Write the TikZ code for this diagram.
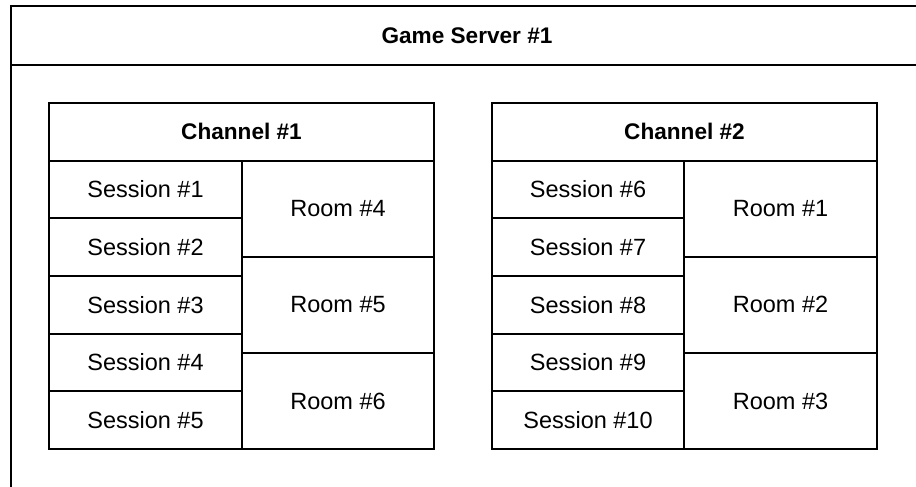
\documentclass[tikz,border=0pt]{standalone}
\usepackage{fontspec}
\setmainfont{Liberation Sans}
\begin{document}
\begin{tikzpicture}[x=1pt,y=-1pt,
  cell/.style={draw, line width=1.8pt, inner sep=0pt, outer sep=0pt,
    anchor=north west, font=\fontsize{23.5}{27}\selectfont},
  headcell/.style={cell, font=\bfseries\fontsize{22.6}{26}\selectfont},
  sesscell/.style={cell, minimum height=57.66},
  roomcell/.style={cell, minimum height=96.1}]
\useasboundingbox (0,0) rectangle (916,487);
\clip (0,0) rectangle (916,487);

% game server frame (extends past the page edge)
\node[headcell, minimum width=912, minimum height=59] (server) at (11,6) {Game Server \#1};
\node[cell, minimum width=912, minimum height=440] (serverbody) at (11,65) {};

% channel #1
\node[headcell, minimum width=385, minimum height=57.7] (ch1) at (49,103) {Channel \#1};
\foreach \i/\n in {0/1,1/2,2/3,3/4,4/5}
  \node[sesscell, minimum width=193] (s\n) at (49,{160.7+\i*57.66}) {Session \#\n};
\foreach \i/\n in {0/4,1/5,2/6}
  \node[roomcell, minimum width=192] (r\n) at (242,{160.7+\i*96.1}) {Room \#\n};

% channel #2
\node[headcell, minimum width=385, minimum height=57.7] (ch2) at (492,103) {Channel \#2};
\foreach \i/\n in {0/6,1/7,2/8,3/9,4/10}
  \node[sesscell, minimum width=192] (s\n) at (492,{160.7+\i*57.66}) {Session \#\n};
\foreach \i/\n in {0/1,1/2,2/3}
  \node[roomcell, minimum width=193] (q\n) at (684,{160.7+\i*96.1}) {Room \#\n};
\end{tikzpicture}
\end{document}
